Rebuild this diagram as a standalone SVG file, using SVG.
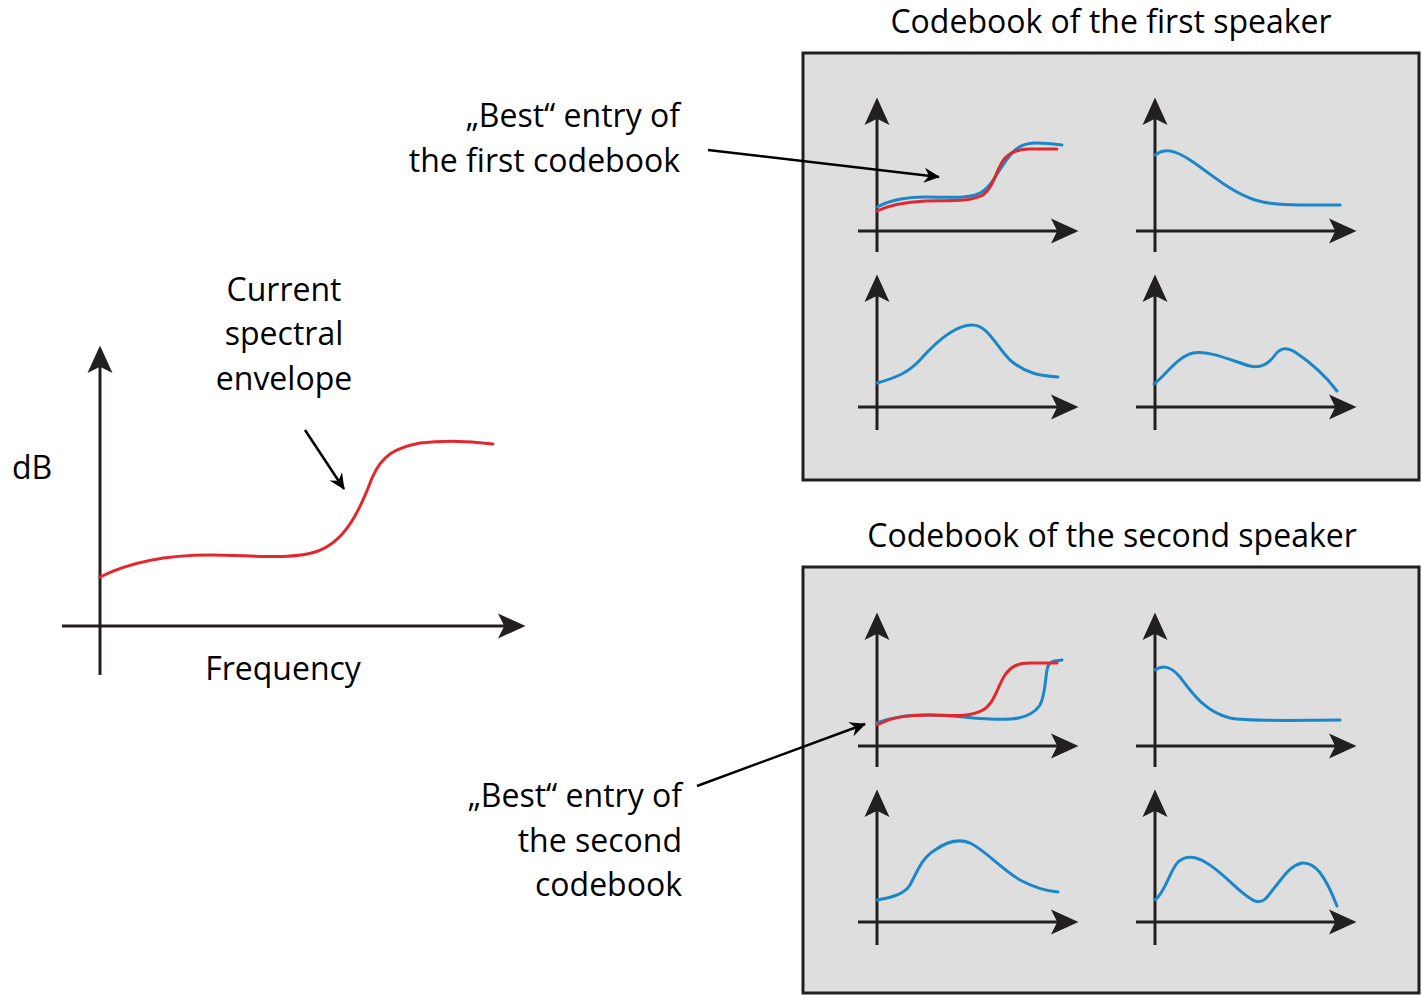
<svg xmlns="http://www.w3.org/2000/svg" width="1422" height="995" viewBox="0 0 1422 995">
<style>
  text { font-family: "Open Sans", "Liberation Sans", sans-serif; font-size: 32px; fill: #000; }
  .box { fill: #dedede; stroke: #231f20; stroke-width: 3; }
  .axis { fill: none; stroke: #231f20; stroke-width: 3; marker-end: url(#ah); }
  .axn { fill: none; stroke: #231f20; stroke-width: 3; }
  .blue { fill: none; stroke: #1b87c9; stroke-width: 3; stroke-linecap: round; }
  .red { fill: none; stroke: #e2282d; stroke-width: 3; stroke-linecap: round; }
  .ptr { fill: none; stroke: #000; stroke-width: 2.5; marker-end: url(#ph); }
</style>
<defs>
  <marker id="ah" markerUnits="userSpaceOnUse" orient="auto" markerWidth="40" markerHeight="30" viewBox="-15 -12 30 24" refX="0" refY="0" overflow="visible">
    <path d="M10,0 L-12,-10 L-7,0 L-12,10 Z" fill="#231f20"/>
  </marker>
  <marker id="ph" markerUnits="userSpaceOnUse" orient="auto" markerWidth="30" markerHeight="20" viewBox="-20 -10 24 20" refX="0" refY="0" overflow="visible">
    <path d="M1,0 L-15,-7.5 L-10,0 L-15,7.5 Z" fill="#000"/>
  </marker>
</defs>

<g id="main-plot">
  <line class="axis" x1="100" y1="675" x2="100" y2="358"/>
  <line class="axis" x1="62" y1="626" x2="513" y2="626"/>
  <path class="red" stroke-width="2.5" d="M100,577 C130,562 170,555 210,555 C250,555 290,560 315,552 C345,543 360,510 372,478 C382,455 395,448 420,443 C445,440 470,441 493,444"/>
  <text x="12" y="479">dB</text>
  <text x="283" y="680" text-anchor="middle">Frequency</text>
</g>

<g id="envelope-label">
  <text x="284" y="301" text-anchor="middle">Current</text>
  <text x="284" y="345" text-anchor="middle">spectral</text>
  <text x="284" y="390" text-anchor="middle">envelope</text>
</g>

<g id="codebook1">
  <text x="1111" y="33" text-anchor="middle">Codebook of the first speaker</text>
  <rect class="box" x="803" y="53" width="616" height="427"/>
  <line class="axis" x1="877" y1="252" x2="877" y2="110"/>
  <line class="axis" x1="858" y1="231" x2="1066" y2="231"/>
  <line class="axis" x1="1155" y1="252" x2="1155" y2="110"/>
  <line class="axis" x1="1136" y1="231" x2="1344" y2="231"/>
  <line class="axis" x1="877" y1="430" x2="877" y2="287"/>
  <line class="axis" x1="858" y1="407" x2="1066" y2="407"/>
  <line class="axis" x1="1155" y1="430" x2="1155" y2="287"/>
  <line class="axis" x1="1136" y1="407" x2="1344" y2="407"/>
  <path class="blue" d="M877,207 C890,200 905,197 925,197 C945,197 965,199 978,194 C992,188 998,170 1008,158 C1016,147 1024,143 1036,143 C1045,143 1055,144 1062,145"/>
  <path class="red" d="M877,211 C890,205 905,202 925,201 C945,200 968,203 983,195 C995,186 996,168 1005,158 C1012,151 1020,149 1030,149 L1057,149"/>
  <path class="blue" d="M1155,155 C1165,148 1175,150 1190,160 C1210,173 1230,192 1255,200 C1275,206 1300,205 1340,205"/>
  <path class="blue" d="M877,383 C895,378 908,373 920,360 C935,343 955,325 972,325 C988,325 995,345 1010,360 C1025,373 1040,376 1058,377"/>
  <path class="blue" d="M1154,384 C1165,376 1178,356 1193,353 C1210,350 1235,362 1250,366 C1262,369 1270,362 1275,355 C1280,348 1287,347 1295,352 C1310,362 1325,375 1337,391"/>
</g>

<g id="codebook2">
  <text x="1112" y="547" text-anchor="middle">Codebook of the second speaker</text>
  <rect class="box" x="803" y="567" width="616" height="426"/>
  <line class="axis" x1="877" y1="767" x2="877" y2="625"/>
  <line class="axis" x1="858" y1="746" x2="1066" y2="746"/>
  <line class="axis" x1="1155" y1="767" x2="1155" y2="625"/>
  <line class="axis" x1="1136" y1="746" x2="1344" y2="746"/>
  <line class="axis" x1="877" y1="945" x2="877" y2="802"/>
  <line class="axis" x1="858" y1="922" x2="1066" y2="922"/>
  <line class="axis" x1="1155" y1="945" x2="1155" y2="802"/>
  <line class="axis" x1="1136" y1="922" x2="1344" y2="922"/>
  <path class="blue" d="M877,723 C895,716 910,715 930,715 C950,715 970,718 990,719 C1010,720 1030,720 1040,705 C1046,694 1045,675 1048,666 C1051,660 1056,661 1062,660"/>
  <path class="red" d="M877,725 C895,716 910,715 930,715 C950,715 968,718 983,710 C995,703 998,685 1005,675 C1012,665 1020,663 1030,663 L1057,663"/>
  <path class="blue" d="M1155,670 C1162,665 1170,665 1180,677 C1192,693 1205,712 1230,718 C1250,722 1300,720 1340,720"/>
  <path class="blue" d="M877,900 C895,897 905,893 910,885 C918,870 922,858 935,850 C945,843 958,838 970,843 C985,850 1000,868 1020,880 C1035,888 1045,891 1058,892"/>
  <path class="blue" d="M1155,900 C1165,893 1170,870 1178,862 C1186,855 1195,856 1205,862 C1225,873 1240,895 1255,901 C1265,904 1268,895 1275,887 C1285,875 1290,866 1302,863 C1315,862 1325,875 1337,906"/>
</g>

<g id="best1-label">
  <text x="680" y="127" text-anchor="end">„Best“ entry of</text>
  <text x="680" y="172" text-anchor="end">the first codebook</text>
</g>

<g id="best2-label">
  <text x="682" y="807" text-anchor="end">„Best“ entry of</text>
  <text x="682" y="852" text-anchor="end">the second</text>
  <text x="682" y="896" text-anchor="end">codebook</text>
</g>

<g id="connectors">
  <line class="ptr" x1="305" y1="430" x2="344" y2="489"/>
  <line class="ptr" x1="708" y1="150" x2="939" y2="177"/>
  <line class="ptr" x1="697" y1="786" x2="865" y2="724"/>
</g>
</svg>
